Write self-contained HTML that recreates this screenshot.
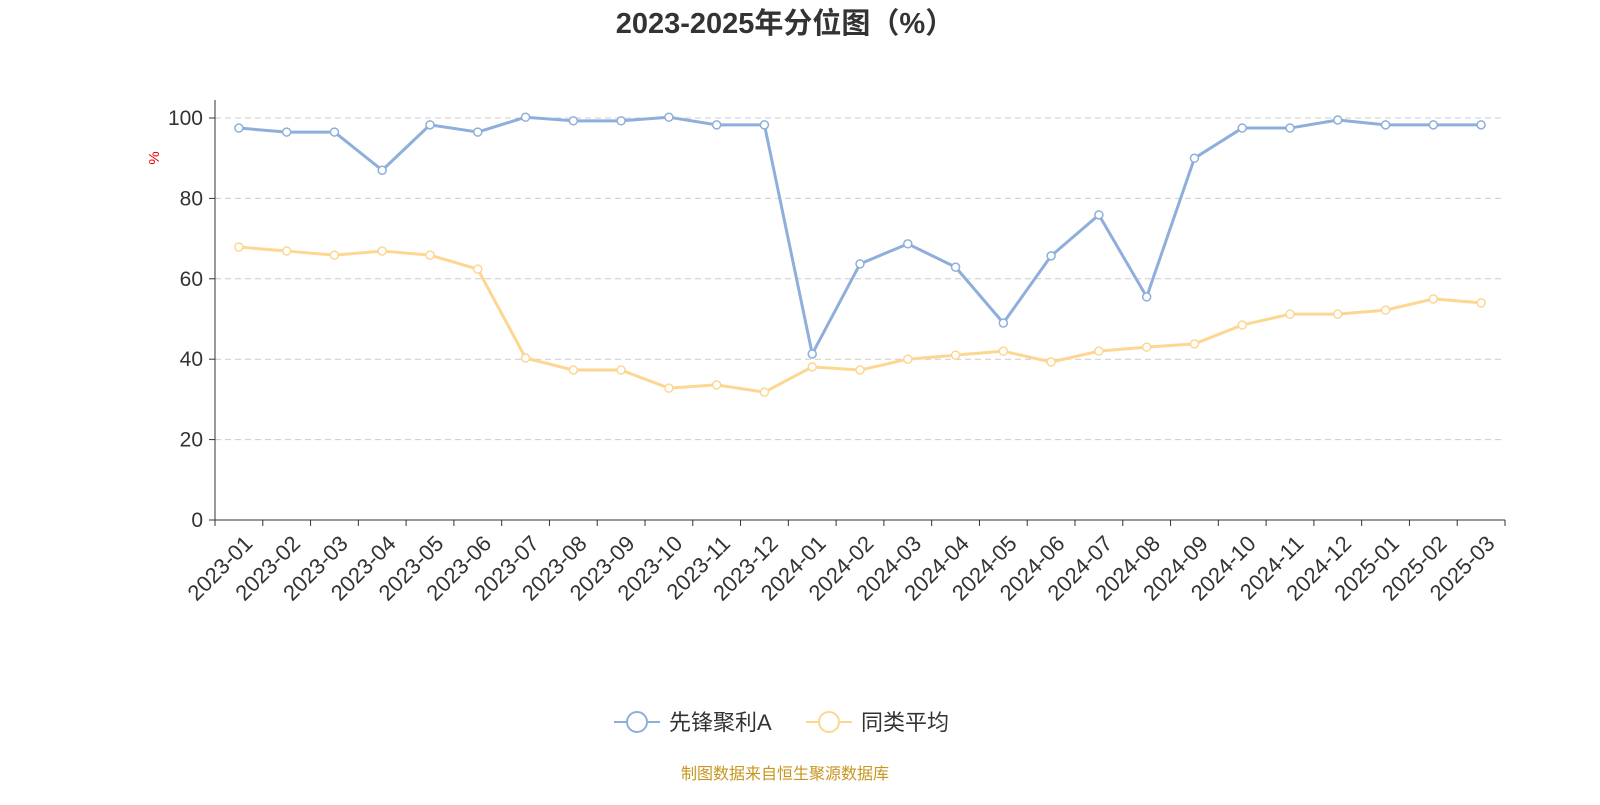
<!DOCTYPE html>
<html><head><meta charset="utf-8"><style>
body{margin:0;background:#fff;width:1600px;height:800px;overflow:hidden;font-family:"Liberation Sans","Noto Sans CJK SC",sans-serif}
</style></head><body>
<svg id="chart" width="1600" height="800" xmlns="http://www.w3.org/2000/svg" font-family="Liberation Sans, Noto Sans CJK SC, sans-serif">
<text x="785" y="33" text-anchor="middle" font-size="29" font-weight="bold" fill="#333">2023-2025年分位图（%）</text>
<text transform="translate(159,158) rotate(-90)" text-anchor="middle" font-size="15" fill="#e00">%</text>
<g id="grid"></g><g id="axes"></g><g id="series"></g>
<g>
<g>
<line x1="614" y1="722" x2="660" y2="722" stroke="#8eaedb" stroke-width="2"/><circle cx="637" cy="722" r="10" fill="#fff" stroke="#8eaedb" stroke-width="2"/>
<text x="669" y="730" font-size="22" fill="#333">先锋聚利A</text></g>
<g>
<line x1="806" y1="722" x2="852" y2="722" stroke="#fdd692" stroke-width="2"/><circle cx="829" cy="722" r="10" fill="#fff" stroke="#fdd692" stroke-width="2"/>
<text x="861" y="730" font-size="22" fill="#333">同类平均</text></g>
</g>
<text x="785" y="779" text-anchor="middle" font-size="16" fill="#c8961e">制图数据来自恒生聚源数据库</text>
</svg>
<script>
const categories=["2023-01","2023-02","2023-03","2023-04","2023-05","2023-06","2023-07","2023-08","2023-09","2023-10","2023-11","2023-12","2024-01","2024-02","2024-03","2024-04","2024-05","2024-06","2024-07","2024-08","2024-09","2024-10","2024-11","2024-12","2025-01","2025-02","2025-03"];
const fundValues=[97.5,96.5,96.5,87,98.3,96.5,100.2,99.3,99.3,100.2,98.3,98.3,41.3,63.7,68.7,62.9,49,65.7,75.9,55.5,90,97.5,97.5,99.5,98.3,98.3,98.3];
const avgValues=[67.9,66.9,65.9,66.9,65.9,62.4,40.3,37.3,37.3,32.8,33.6,31.8,38.1,37.3,40,41,42,39.3,42,43,43.8,48.5,51.2,51.2,52.2,55,54];
const yTicks=[0,20,40,60,80,100];
const NS="http://www.w3.org/2000/svg";
const L=215,R=1505,T=118,B=520;
const bw=(R-L)/categories.length;
const xs=i=>L+bw*(i+0.5);
const ys=v=>B-(v/100)*(B-T);
function mk(tag,attrs,parent){const e=document.createElementNS(NS,tag);for(const k in attrs)e.setAttribute(k,attrs[k]);parent.appendChild(e);return e;}
const grid=document.getElementById('grid'),axes=document.getElementById('axes'),series=document.getElementById('series');
yTicks.forEach(t=>{
 if(t>0){const g=mk('line',{x1:L,x2:R,y1:ys(t),y2:ys(t),stroke:'#ccc','stroke-dasharray':'6,4'},grid);
 
 }
 const tk=mk('line',{x1:L-6,x2:L,y1:ys(t),y2:ys(t),stroke:'#333'},axes);
 
 
 const tx=mk('text',{x:L-12,y:ys(t)+7,'text-anchor':'end','font-size':21,fill:'#333'},axes);
 tx.textContent=t;
 
 
});
const ya=mk('line',{x1:L,x2:L,y1:100,y2:B,stroke:'#333'},axes);


const xa=mk('line',{x1:L,x2:R,y1:B,y2:B,stroke:'#333'},axes);


for(let i=0;i<=categories.length;i++){
 const tk=mk('line',{x1:L+bw*i,x2:L+bw*i,y1:B,y2:B+6,stroke:'#333'},axes);
 
 
}
categories.forEach((c,i)=>{
 const x=xs(i)+4,y=B+14;
 const tx=mk('text',{x:x,y:y,'text-anchor':'end','font-size':22,fill:'#333',transform:`rotate(-45 ${x} ${y})`,dy:'0.7em'},axes);
 tx.textContent=c;
 
 
});
function drawSeries(vals,color,name){
 const p=mk('polyline',{points:vals.map((v,i)=>xs(i)+','+ys(v)).join(' '),fill:'none',stroke:color,'stroke-width':3,'stroke-linejoin':'round'},series);
 
 
 vals.forEach((v,i)=>{
  const c=mk('circle',{cx:xs(i),cy:ys(v),r:4,fill:'#fff',stroke:color,'stroke-width':1.5},series);
  
  
 });
}
drawSeries(avgValues,'#fdd692','average');
drawSeries(fundValues,'#8eaedb','fund');
</script>
</body></html>
